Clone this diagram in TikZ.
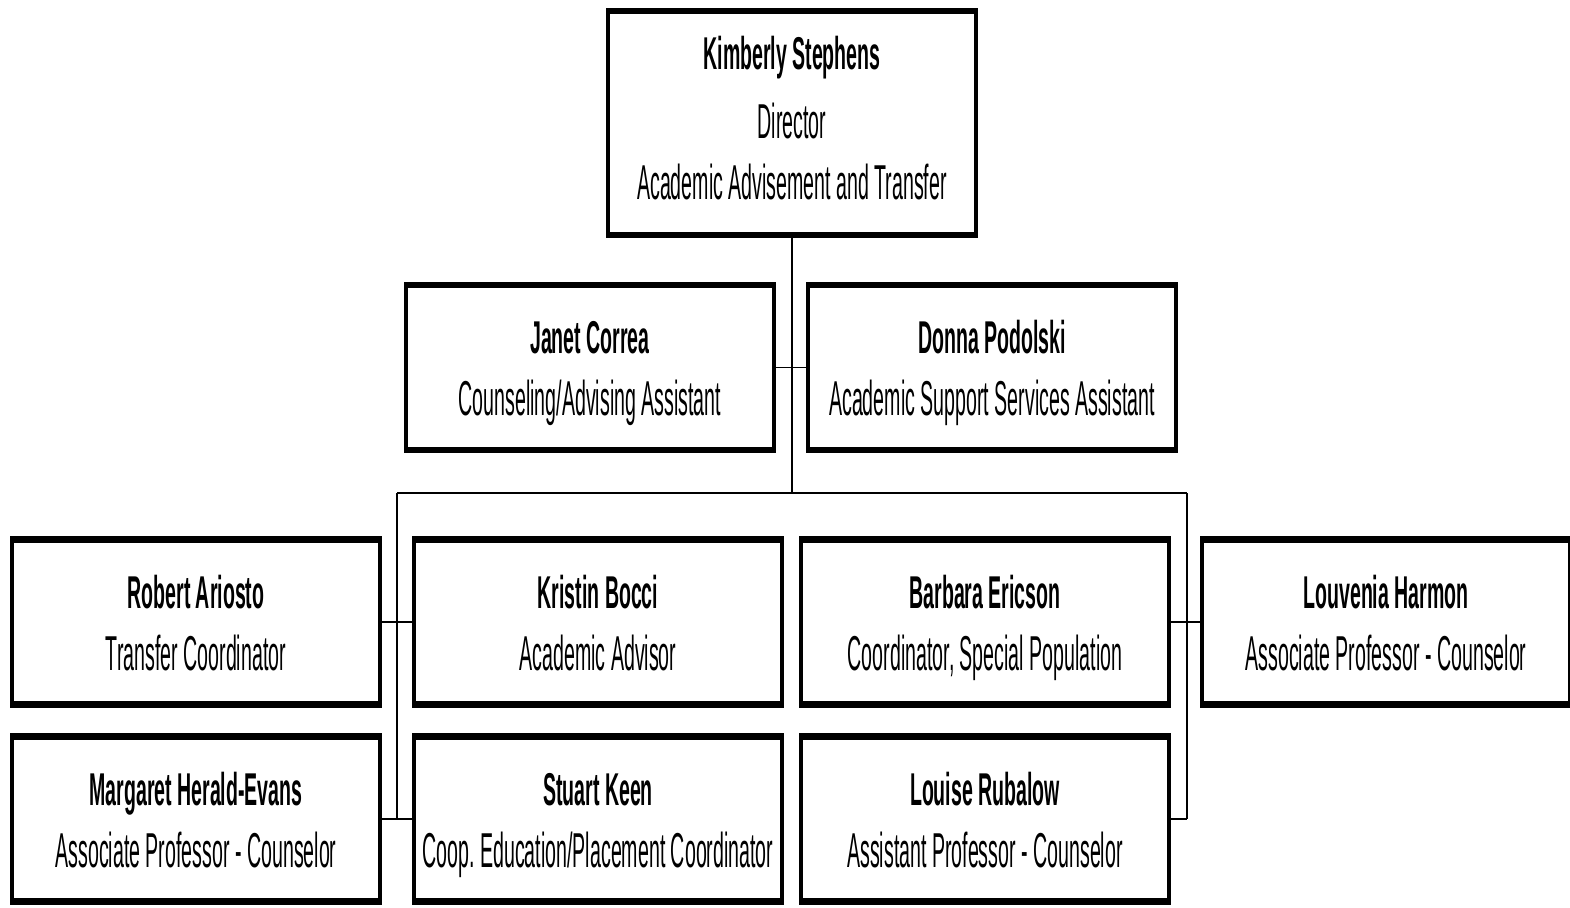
\documentclass[tikz,border=0pt]{standalone}
\usepackage{fontspec}
\setmainfont{Liberation Sans}[FakeStretch=0.40]
\newfontfamily\namefont{Liberation Sans}[FakeStretch=0.425]
\frenchspacing
\newcommand\orgbox[5]{%
  \node[obox] (#1) at (#2,#3) {};
  \node[nametext] at ([yshift=7pt]#1.center) {#4};
  \node[roletext] at ([yshift=-24pt]#1.center) {#5};
}
\begin{document}
\begin{tikzpicture}[x=0.5pt,y=-0.5pt,
  obox/.style={draw=black, line width=2pt, outer sep=0pt, inner sep=0pt,
    minimum width=184pt, minimum height=82.5pt, fill=white},
  topbox/.style={obox, minimum height=112pt},
  nametext/.style={anchor=base, inner sep=0pt, font=\namefont\fontsize{23}{26}\selectfont\bfseries},
  roletext/.style={anchor=base, inner sep=0pt, font=\fontsize{24.5}{28}\selectfont},
  conn/.style={line width=0.85pt, black},
  edge/.style={line width=3.4pt, black}]
\useasboundingbox (0,0) rectangle (1570,907);
% top box
\node[topbox] (ks) at (792,123) {};
\node[nametext] at ([yshift=27pt]ks.center) {Kimberly Stephens};
\node[roletext] at ([yshift=-7.5pt]ks.center) {Director};
\node[roletext] at ([yshift=-38pt]ks.center) {Academic Advisement and Transfer};
% second row
\orgbox{jc}{590}{367.5}{Janet Correa}{Counseling/Advising Assistant}
\orgbox{dp}{992}{367.5}{Donna Podolski}{Academic Support Services Assistant}
% third row
\orgbox{ra}{196}{622}{Robert Ariosto}{Transfer Coordinator}
\orgbox{kb}{598}{622}{Kristin Bocci}{Academic Advisor}
\orgbox{be}{985}{622}{Barbara Ericson}{Coordinator, Special Population}
\orgbox{lh}{1386}{622}{Louvenia Harmon}{Associate Professor - Counselor}
% fourth row
\orgbox{mh}{196}{819}{Margaret Herald-Evans}{Associate Professor - Counselor}
\orgbox{sk}{598}{819}{Stuart Keen}{Coop. Education/Placement Coordinator}
\orgbox{lr}{985}{819}{Louise Rubalow}{Assistant Professor - Counselor}
% thick top and bottom edges
\foreach \n in {ks,jc,dp,ra,kb,be,lh,mh,sk,lr}{
  \draw[edge] ([xshift=-1pt]\n.north west) -- ([xshift=1pt]\n.north east);
  \draw[edge] ([xshift=-1pt]\n.south west) -- ([xshift=1pt]\n.south east);
}
% connectors
\coordinate (hub) at (792,493);
\coordinate (lb) at (397,493);
\coordinate (rb) at (1187,493);
\coordinate (lbe) at (397,819);
\coordinate (rbe) at (1187,819);
\draw[conn] (ks.south) -- (hub);
\draw[conn] (jc.east) -- (dp.west);
\draw[conn] (lb) -- (rb);
\draw[conn] (lb) -- (lbe);
\draw[conn] (rb) -- (rbe);
\draw[conn] (ra.east) -- (kb.west);
\draw[conn] (mh.east) -- (sk.west);
\draw[conn] (be.east) -- (lh.west);
\draw[conn] (lr.east) -- (rbe);
\end{tikzpicture}
\end{document}
